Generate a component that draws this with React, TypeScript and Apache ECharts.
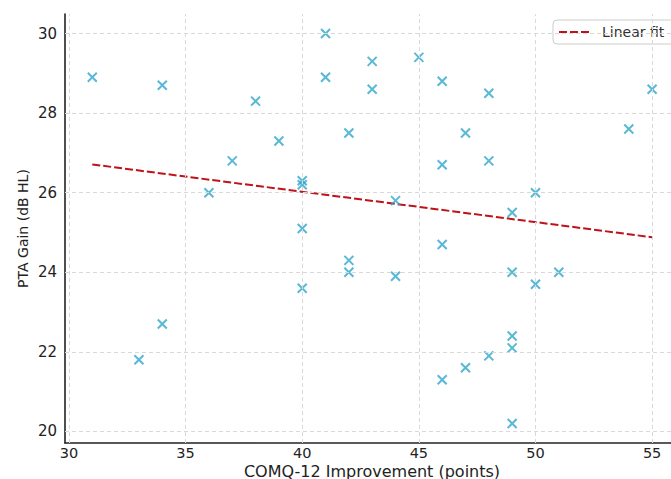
import React, { useEffect, useRef } from "react";
import * as echarts from "echarts";

const improvement = [31, 34, 38, 41, 41, 39, 42, 37, 36, 40, 40, 40, 43, 43, 45, 46, 48, 55, 47, 54, 46, 48, 50, 44, 49, 42, 42, 40, 34, 33, 46, 44, 49, 50, 51, 49, 49, 48, 47, 46, 49];
const ptaGain = [28.9, 28.7, 28.3, 30.0, 28.9, 27.3, 27.5, 26.8, 26.0, 26.3, 26.2, 25.1, 29.3, 28.6, 29.4, 28.8, 28.5, 28.6, 27.5, 27.6, 26.7, 26.8, 26.0, 25.8, 25.5, 24.3, 24.0, 23.6, 22.7, 21.8, 24.7, 23.9, 24.0, 23.7, 24.0, 22.4, 22.1, 21.9, 21.6, 21.3, 20.2];

const fitX = [31, 55];
const fitY = [26.71, 24.88];

const xTicks = [30, 35, 40, 45, 50, 55];
const yTicks = [20, 22, 24, 26, 28, 30];

const FONT = "DejaVu Sans";

export default function App() {
  const ref = useRef<HTMLDivElement>(null);
  useEffect(() => {
    if (!ref.current) return;
    const chart = echarts.init(ref.current, undefined, { renderer: "svg" });
    const axisColor = "#222";
    chart.setOption({
      animation: false,
      backgroundColor: "#ffffff",
      grid: { left: 65, right: 0, top: 14, bottom: 36, containLabel: false, outerBoundsMode: "none" },
      legend: {
        data: [{ name: "Linear fit", itemStyle: { opacity: 0 } }],
        left: 553,
        top: 20,
        padding: [5, 10, 5, 5],
        itemWidth: 32,
        itemHeight: 12,
        borderColor: "#cccccc",
        borderWidth: 1,
        borderRadius: 4,
        textStyle: { fontFamily: FONT, fontSize: 14, color: "#333", padding: [0, 0, 0, 6] },
      },
      xAxis: {
        type: "value",
        min: 29.83,
        max: 55.81,
        name: "COMQ-12 Improvement (points)",
        nameLocation: "middle",
        nameGap: 20,
        nameMoveOverlap: false,
        nameTextStyle: { fontFamily: FONT, fontSize: 16, color: axisColor, padding: [0, 0, 0, 8], lineHeight: 16 },
        axisLine: { show: true, onZero: false, lineStyle: { color: axisColor, width: 1.6 } },
        axisTick: { show: true, inside: true, length: 4, customValues: xTicks, lineStyle: { color: axisColor } },
        axisLabel: { customValues: xTicks, fontFamily: FONT, fontSize: 14.5, lineHeight: 14, color: axisColor, margin: 3 },
        splitLine: { show: false },
      },
      yAxis: {
        type: "value",
        min: 19.71,
        max: 30.49,
        name: "PTA Gain (dB HL)",
        nameLocation: "middle",
        nameGap: 35,
        nameMoveOverlap: false,
        nameTextStyle: { fontFamily: FONT, fontSize: 14, color: axisColor },
        axisLine: { show: true, onZero: false, lineStyle: { color: axisColor, width: 1.6 } },
        axisTick: { show: true, inside: true, length: 4, customValues: yTicks, lineStyle: { color: axisColor } },
        axisLabel: { customValues: yTicks, fontFamily: FONT, fontSize: 15, color: axisColor, margin: 8 },
        splitLine: { show: false },
      },
      series: [
        {
          type: "scatter",
          name: "grid",
          data: [],
          z: 1,
          silent: true,
          markLine: {
            silent: true,
            symbol: ["none", "none"],
            label: { show: false },
            lineStyle: { color: "#d9d9d9", type: [4, 3], width: 1 },
            data: [
              ...xTicks.map((v) => ({ xAxis: v })),
              ...yTicks.map((v) => ({ yAxis: v })),
            ],
          },
        },
        {
          type: "scatter",
          name: "Data",
          z: 3,
          symbol: "path://M0,0L10,10M0,10L10,0",
          symbolSize: 9,
          itemStyle: { color: "transparent", borderColor: "#2ea6cb", borderWidth: 2 },
          data: improvement.map((x, i) => [x, ptaGain[i]]),
        },
        {
          type: "line",
          name: "Linear fit",
          z: 2,
          showSymbol: false,
          symbol: "none",
          lineStyle: { color: "#bf1219", width: 2, type: [8, 3] },
          itemStyle: { color: "#bf1219", opacity: 0 },
          data: fitX.map((x, i) => [x, fitY[i]]),
        },
      ],
    });
    return () => chart.dispose();
  }, []);
  return (
    <div
      ref={ref}
      style={{ position: "absolute", left: 0, top: 0, width: 671, height: 479 }}
    />
  );
}
